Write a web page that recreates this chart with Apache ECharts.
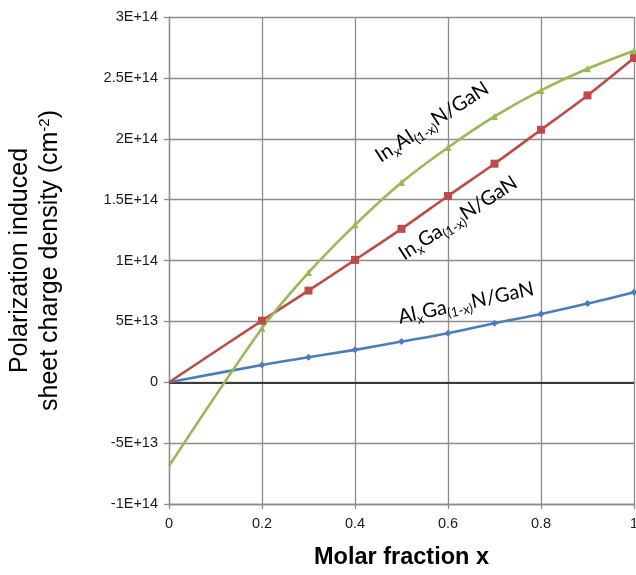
<!DOCTYPE html>
<html><head><meta charset="utf-8">
<script src="https://cdn.jsdelivr.net/npm/echarts@6/dist/echarts.min.js"></script>
<style>html,body{margin:0;padding:0;background:#fff}#c{width:636px;height:575px}</style>
</head><body><div id="c"></div>
<script>
const xValues = [0, 0.2, 0.3, 0.4, 0.5, 0.6, 0.7, 0.8, 0.9, 1.0];
const alGaN = [0, 1.42e13, 2.06e13, 2.66e13, 3.34e13, 4.03e13, 4.85e13, 5.61e13, 6.46e13, 7.40e13];
const inGaN = [0, 5.06e13, 7.53e13, 1.005e14, 1.26e14, 1.53e14, 1.795e14, 2.074e14, 2.356e14, 2.663e14];
const inAlN = [-6.88e13, 4.44e13, 9.01e13, 1.293e14, 1.641e14, 1.928e14, 2.183e14, 2.397e14, 2.575e14, 2.723e14];
const seriesLabels = [
  '{m|In}{s|x}{m|Al}{s|(1-x)}{m|N/GaN}',
  '{m|In}{s|x}{m|Ga}{s|(1-x)}{m|N/GaN}',
  '{m|Al}{s|x}{m|Ga}{s|(1-x)}{m|N/GaN}'
];

function fmtE(v) {
  if (v === 0) return '0';
  const e = Math.floor(Math.log10(Math.abs(v)) + 1e-9);
  const m = Math.round(v / Math.pow(10, e) * 100) / 100;
  return m + 'E+' + e;
}
function pts(arr) {
  return xValues.map((x, i) => i === 0 ? { value: [x, arr[i]], symbol: 'none' } : [x, arr[i]]);
}

const chart = echarts.init(document.getElementById('c'), null, { renderer: 'canvas' });
const richLab = {
  m: { fontFamily: 'Lato', fontSize: 20, lineHeight: 26, color: '#000' },
  s: { fontFamily: 'Lato', fontSize: 13, lineHeight: 13, verticalAlign: 'bottom', color: '#000' }
};
chart.setOption({
  animation: false,
  backgroundColor: '#fff',
  grid: { left: 169, right: 2, top: 17, bottom: 71, containLabel: false, outerBoundsMode: 'none' },
  xAxis: {
    type: 'value', min: 0, max: 1, interval: 0.2,
    name: 'Molar fraction x', nameLocation: 'middle', nameGap: 42,
    nameTextStyle: { fontFamily: 'Liberation Sans', fontWeight: 'bold', fontSize: 23.5, color: '#000' },
    axisLine: { show: true, onZero: false, lineStyle: { color: '#8c8c8c', width: 1.3 } },
    axisTick: { show: true, length: 5, lineStyle: { color: '#8c8c8c', width: 1.3 } },
    axisLabel: { fontFamily: 'Liberation Sans', fontSize: 14.5, color: '#1a1a1a', margin: 12,
      formatter: v => String(Math.round(v * 10) / 10) },
    splitLine: { show: true, lineStyle: { color: '#8c8c8c', width: 1.3 } }
  },
  yAxis: {
    type: 'value', min: -1e14, max: 3e14, interval: 5e13,
    name: 'Polarization induced\nsheet charge density (cm{sup|-2})',
    nameLocation: 'middle', nameGap: 104, nameRotate: 90,
    nameTextStyle: { fontFamily: 'Liberation Sans', fontSize: 25, lineHeight: 30, color: '#000',
      rich: { sup: { fontFamily: 'Liberation Sans', fontSize: 15, lineHeight: 30, verticalAlign: 'top', padding: [2, 0, 0, 0], color: '#000' } } },
    axisLine: { show: true, onZero: false, lineStyle: { color: '#8c8c8c', width: 1.3 } },
    axisTick: { show: true, length: 5, lineStyle: { color: '#8c8c8c', width: 1.3 } },
    axisLabel: { fontFamily: 'Liberation Sans', fontSize: 14.5, color: '#1a1a1a', margin: 11, formatter: fmtE },
    splitLine: { show: true, lineStyle: { color: '#8c8c8c', width: 1.3 } }
  },
  series: [
    {
      name: 'AlGaN', type: 'line', data: pts(alGaN), smooth: 0.3,
      symbol: 'diamond', symbolSize: 7,
      lineStyle: { color: '#4a7ebb', width: 2.6 }, itemStyle: { color: '#4a7ebb' },
      markLine: { silent: true, symbol: 'none', label: { show: false }, z: 1,
        lineStyle: { color: '#3a3a3a', width: 2, type: 'solid' }, data: [{ yAxis: 0 }] },
      z: 3
    },
    {
      name: 'InGaN', type: 'line', data: pts(inGaN), smooth: 0.3,
      symbol: 'rect', symbolSize: 8,
      lineStyle: { color: '#be4b48', width: 2.6 }, itemStyle: { color: '#be4b48' }, z: 3
    },
    {
      name: 'InAlN', type: 'line', data: pts(inAlN), smooth: 0.3,
      symbol: 'triangle', symbolSize: 7,
      lineStyle: { color: '#98b954', width: 2.6 }, itemStyle: { color: '#98b954' }, z: 3
    }
  ],
  graphic: [
    { type: 'text', x: 432, y: 122, rotation: 33 * Math.PI / 180, z: 10,
      style: { text: seriesLabels[0], rich: richLab, align: 'center', verticalAlign: 'middle' } },
    { type: 'text', x: 458, y: 218, rotation: 33 * Math.PI / 180, z: 10,
      style: { text: seriesLabels[1], rich: richLab, align: 'center', verticalAlign: 'middle' } },
    { type: 'text', x: 466, y: 303, rotation: 12 * Math.PI / 180, z: 10,
      style: { text: seriesLabels[2], rich: richLab, align: 'center', verticalAlign: 'middle' } }
  ]
});
</script></body></html>
